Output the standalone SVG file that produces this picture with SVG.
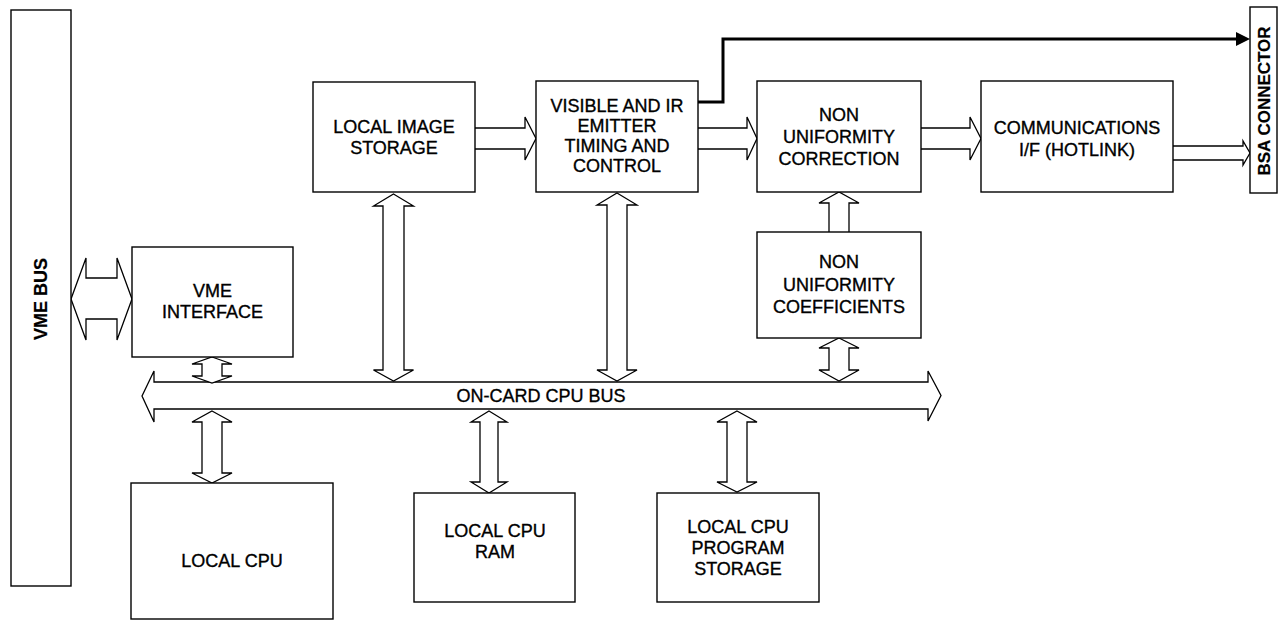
<svg xmlns="http://www.w3.org/2000/svg" width="1278" height="620" viewBox="0 0 1278 620">
<style>
.box{fill:#fff;stroke:#000;stroke-width:1.4}
.arr{fill:#fff;stroke:#000;stroke-width:1.3;stroke-linejoin:miter}
.t{font-family:"Liberation Sans",Arial,sans-serif;font-size:18px;fill:#000;stroke:#000;stroke-width:0.35;text-anchor:middle}
.b{font-weight:bold;stroke-width:0.2}
.bold{fill:none;stroke:#000;stroke-width:3}
</style>
<rect width="1278" height="620" fill="#fff"/>
<g id="connectors">
  <path class="arr" d="M142,396 L154,371 L154,382 L928,382 L928,371 L941,395.5 L928,421 L928,409 L154,409 L154,422 Z"/>
  <path class="arr" d="M71,299 L86,258 L86,278 L117,278 L117,258 L132,299 L117,340 L117,319 L86,319 L86,340 Z"/>
  <path class="arr" d="M475,128 H525 V117 L536,138.5 L525,160 V149 H475"/>
  <path class="arr" d="M698,128 H747 V117 L757,138.5 L747,160 V149 H698"/>
  <path class="arr" d="M921,128 H970 V117 L981,138.5 L970,160 V149 H921"/>
  <path class="arr" d="M1173,146 H1243 V141 L1250,153 L1243,165 V160 H1173"/>
  <path class="arr" d="M829,232 V203 H819 L839,192 L859,203 H849 V232"/>
  <path class="arr" d="M393.5,194 L413.5,206 L404,206 L404,370 L413.5,370 L393.5,381 L373.5,370 L383,370 L383,206 L373.5,206 Z"/>
  <path class="arr" d="M617,193 L637,205 L627,205 L627,370 L637,370 L617,381 L597,370 L607,370 L607,205 L597,205 Z"/>
  <path class="arr" d="M839,338 L859,348 L849,348 L849,370 L859,370 L839,381 L819,370 L829,370 L829,348 L819,348 Z"/>
  <path class="arr" d="M212,357 L232,364 L222,364 L222,376 L232,376 L212,383 L192,376 L202,376 L202,364 L192,364 Z"/>
  <path class="arr" d="M212,411 L232,422 L222,422 L222,473 L232,473 L212,483 L192,473 L202,473 L202,422 L192,422 Z"/>
  <path class="arr" d="M489,411 L507,422 L498,422 L498,482 L507,482 L489,493 L471,482 L480,482 L480,422 L471,422 Z"/>
  <path class="arr" d="M737,411 L757,422 L747,422 L747,482 L757,482 L737,492 L717,482 L727,482 L727,422 L717,422 Z"/>
  <polyline class="bold" points="698,102 723,102 723,39 1238,39"/>
  <polygon points="1236,32 1250,39 1236,46" fill="#000"/>
  <text class="t" x="541" y="401.5">ON-CARD CPU BUS</text>
</g>
<g id="vme-bus">
  <rect class="box" x="11" y="10" width="60" height="576"/>
  <text class="t b" transform="translate(47,299) rotate(-90)">VME BUS</text>
</g>
<g id="vme-interface">
  <rect class="box" x="132" y="247" width="161" height="110"/>
  <text class="t" x="212.5" y="297">VME</text>
  <text class="t" x="212.5" y="318">INTERFACE</text>
</g>
<g id="local-image-storage">
  <rect class="box" x="313" y="82" width="162" height="110"/>
  <text class="t" x="394" y="133">LOCAL IMAGE</text>
  <text class="t" x="394" y="154">STORAGE</text>
</g>
<g id="visible-ir">
  <rect class="box" x="536" y="81" width="162" height="111"/>
  <text class="t" x="617" y="112">VISIBLE AND IR</text>
  <text class="t" x="617" y="132">EMITTER</text>
  <text class="t" x="617" y="152">TIMING AND</text>
  <text class="t" x="617" y="172">CONTROL</text>
</g>
<g id="nuc">
  <rect class="box" x="757" y="81" width="164" height="111"/>
  <text class="t" x="839" y="120.5">NON</text>
  <text class="t" x="839" y="142.5">UNIFORMITY</text>
  <text class="t" x="839" y="164.5">CORRECTION</text>
</g>
<g id="communications">
  <rect class="box" x="981" y="81" width="192" height="111"/>
  <text class="t" x="1077" y="133.5">COMMUNICATIONS</text>
  <text class="t" x="1077" y="155.5">I/F (HOTLINK)</text>
</g>
<g id="bsa-connector">
  <rect class="box" x="1250" y="7" width="27" height="186"/>
  <text class="t b" style="font-size:17px" transform="translate(1270,101) rotate(-90)">BSA CONNECTOR</text>
</g>
<g id="nu-coefficients">
  <rect class="box" x="757" y="232" width="164" height="106"/>
  <text class="t" x="839" y="268">NON</text>
  <text class="t" x="839" y="291">UNIFORMITY</text>
  <text class="t" x="839" y="313">COEFFICIENTS</text>
</g>
<g id="local-cpu">
  <rect class="box" x="131" y="483" width="202" height="136"/>
  <text class="t" x="232" y="567">LOCAL CPU</text>
</g>
<g id="local-cpu-ram">
  <rect class="box" x="414" y="493" width="161" height="109"/>
  <text class="t" x="495" y="537">LOCAL CPU</text>
  <text class="t" x="495" y="558">RAM</text>
</g>
<g id="program-storage">
  <rect class="box" x="657" y="493" width="162" height="109"/>
  <text class="t" x="738" y="533">LOCAL CPU</text>
  <text class="t" x="738" y="554">PROGRAM</text>
  <text class="t" x="738" y="575">STORAGE</text>
</g>
</svg>
